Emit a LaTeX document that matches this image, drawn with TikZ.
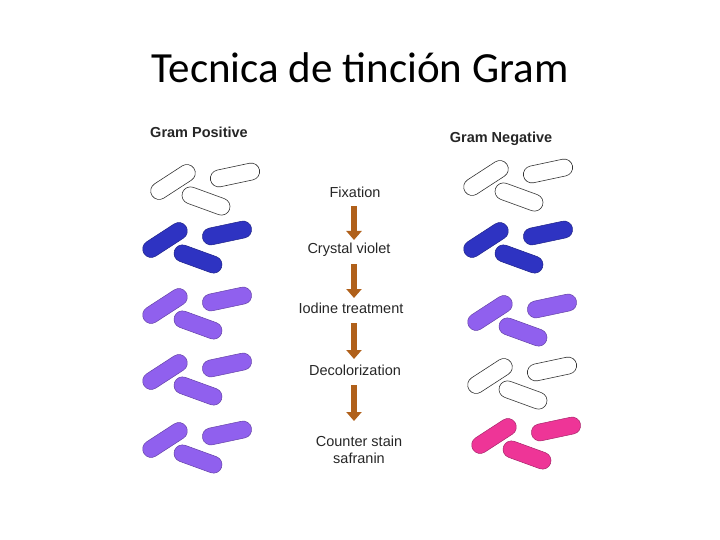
\documentclass[tikz,border=0pt]{standalone}
\usepackage{fontspec}
\setmainfont{Carlito}
\newfontfamily\arialf{Liberation Sans}
\usetikzlibrary{shapes.misc,arrows.meta}
\definecolor{gblue}{HTML}{2E33C2}
\definecolor{gviolet}{HTML}{9060EE}
\definecolor{gpink}{HTML}{EE3597}
\definecolor{gbrown}{HTML}{B0601A}
\tikzset{
 rod/.style={rounded rectangle, minimum width=50pt, minimum height=17pt, inner sep=0pt, draw=#1!70!black, fill=#1, line width=0.5pt},
 rodw/.style={rounded rectangle, minimum width=50pt, minimum height=17pt, inner sep=0pt, draw=black!80, fill=white, line width=0.6pt},
 lbl/.style={font=\arialf\fontsize{14.5}{17}\selectfont, text=black!85, inner sep=1pt},
 hdr/.style={font=\arialf\bfseries\fontsize{14.5}{17}\selectfont, text=black!85},
 flow/.style={line width=6pt, draw=gbrown, -{Triangle[length=9pt,width=15pt]}, shorten <=3pt, shorten >=1pt},
 pics/trio/.style={code={
   \node[#1, rotate=33] (-a) at (0,0) {};
   \node[#1, rotate=12] (-b) at (62,-7) {};
   \node[#1, rotate=-20] (-c) at (33,19) {};
 }}
}
\begin{document}
\begin{tikzpicture}[x=1pt,y=-1pt]
\useasboundingbox (0,0) rectangle (720,540);
\node[font=\fontsize{43}{48}\selectfont] (title) at (360,68) {Tecnica de tinción Gram};
\node[hdr] (gp) at (199,132) {Gram Positive};
\node[hdr] (gn) at (501,139) {Gram Negative};
% left column
\pic (l1) at (173,182) {trio=rodw};
\pic (l2) at (165,240) {trio={rod=gblue}};
\pic (l3) at (165,306) {trio={rod=gviolet}};
\pic (l4) at (165,372) {trio={rod=gviolet}};
\pic (l5) at (165,440) {trio={rod=gviolet}};
% right column
\pic (r1) at (486,178) {trio=rodw};
\pic (r2) at (486,240) {trio={rod=gblue}};
\pic (r3) at (490,313) {trio={rod=gviolet}};
\pic (r4) at (490,376) {trio=rodw};
\pic (r5) at (494,436) {trio={rod=gpink}};
% steps
\node[lbl] (s1) at (355,192) {Fixation};
\node[lbl] (s2) at (349,250) {Crystal violet};
\node[lbl] (s3) at (351,308) {Iodine treatment};
\node[lbl] (s4) at (355,370) {Decolorization};
\node[lbl, align=center] (s5) at (359,450) {Counter stain\\safranin};
\draw[flow] (354,203) -- (354,241);
\draw[flow] (354,261) -- (354,299);
\draw[flow] (354,320) -- (354,360);
\draw[flow] (354,382) -- (354,422);
\end{tikzpicture}
\end{document}
